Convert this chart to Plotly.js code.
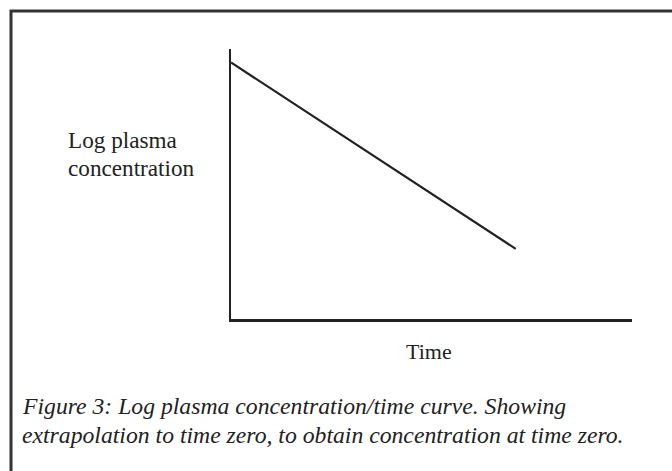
<!DOCTYPE html>
<html>
<head>
<meta charset="utf-8">
<script src="https://cdn.plot.ly/plotly-3.0.1.min.js"></script>
<style>html,body{margin:0;padding:0;background:#fff;}#chart{width:672px;height:471px;}</style>
</head>
<body>
<div id="chart"></div>
<script>
// Data (arbitrary units; schematic)
const time = [0, 7.1];
const logConc = [9.5, 2.6];
const xLabel = "Time";
const yLabel = ["Log plasma", "concentration"];
const caption = ["Figure 3: Log plasma concentration/time curve. Showing",
                 "extrapolation to time zero, to obtain concentration at time zero."];

const W = 672, H = 471;
const ink = "#222222";
const serif = "'Liberation Serif', 'Times New Roman', Times, serif";

const trace = {
  x: time, y: logConc, type: "scatter", mode: "lines",
  line: {color: ink, width: 2.2}, hoverinfo: "skip", showlegend: false
};

function ann(text, xPx, yPx, anchor, size, italic) {
  return {
    xref: "paper", yref: "paper", x: xPx / W, y: 1 - yPx / H,
    xanchor: anchor, yanchor: "middle", align: "left", showarrow: false,
    text: italic ? "<i>" + text + "</i>" : text,
    font: {family: serif, size: size, color: ink}
  };
}

const layout = {
  width: W, height: H,
  margin: {l: 0, r: 0, t: 0, b: 0},
  paper_bgcolor: "#ffffff", plot_bgcolor: "#ffffff",
  showlegend: false,
  xaxis: {
    domain: [231/W, 632/W], range: [0, 10],
    showline: true, linecolor: ink, linewidth: 2.5,
    showgrid: false, zeroline: false, showticklabels: false, ticks: "",
    fixedrange: true
  },
  yaxis: {
    domain: [1 - 319/H, 1 - 49/H], range: [0, 10],
    showline: true, linecolor: ink, linewidth: 2.5,
    showgrid: false, zeroline: false, showticklabels: false, ticks: "",
    fixedrange: true
  },
  shapes: [{
    type: "rect", xref: "paper", yref: "paper",
    x0: 11/W, x1: 1.2, y0: -0.2, y1: 1 - 11/H,
    line: {color: "#333333", width: 3}, fillcolor: "rgba(0,0,0,0)"
  }],
  annotations: [
    ann(yLabel[0], 66, 140, "left", 23.2, false),
    ann(yLabel[1], 66, 168, "left", 23.2, false),
    ann(xLabel, 429, 351, "center", 22, false),
    ann(caption[0], 20, 405.5, "left", 23.7, true),
    ann(caption[1], 20, 434.5, "left", 23.7, true)
  ]
};

Plotly.newPlot("chart", [trace], layout, {staticPlot: true, displayModeBar: false});
</script>
</body>
</html>
